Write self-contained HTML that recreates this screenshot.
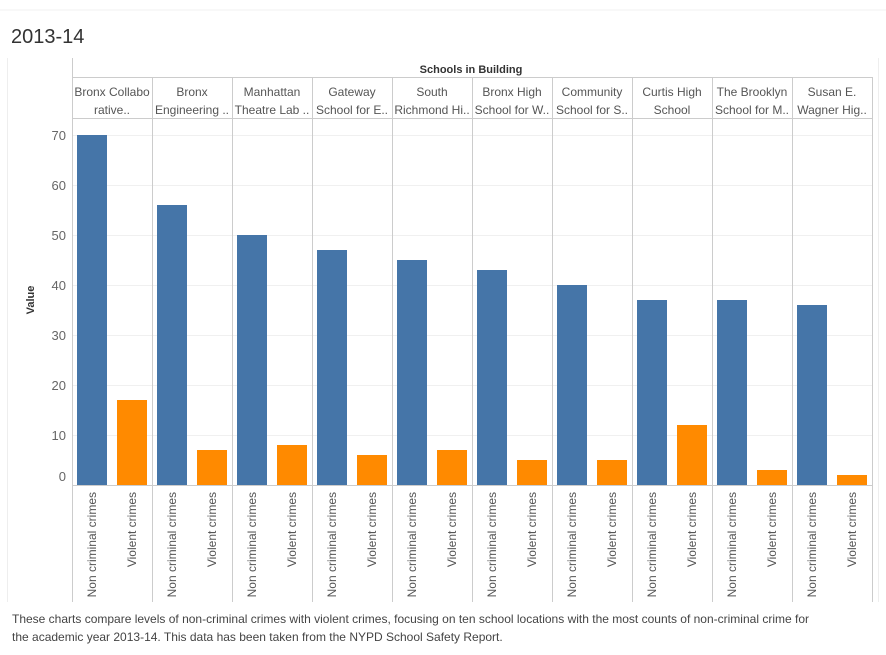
<!DOCTYPE html>
<html><head><meta charset="utf-8"><style>
body{margin:0;background:#fff;width:886px;height:650px;overflow:hidden;font-family:"Liberation Sans",sans-serif}
svg text{font-family:"Liberation Sans",sans-serif}
</style></head><body>
<svg width="886" height="650">
<line x1="0" y1="10" x2="886" y2="10" stroke="#f0f0f0"/>
<text x="11" y="43" font-size="20" fill="#333">2013-14</text>
<line x1="7.5" y1="58" x2="7.5" y2="602" stroke="#eee"/>
<line x1="878.5" y1="58" x2="878.5" y2="602" stroke="#eee"/>
<text x="471" y="73" font-size="11" font-weight="bold" fill="#333" text-anchor="middle">Schools in Building</text>
<text transform="translate(34,300) rotate(-90)" font-size="11" font-weight="bold" fill="#333" text-anchor="middle">Value</text>
<g id="g"></g>
<text x="12" y="623" font-size="12" fill="#444">These charts compare levels of non-criminal crimes with violent crimes, focusing on ten school locations with the most counts of non-criminal crime for</text>
<text x="12" y="641" font-size="12" fill="#444">the academic year 2013-14. This data has been taken from the NYPD School Safety Report.</text>
</svg>
<script>
const schoolsLine1=["Bronx Collabo","Bronx","Manhattan","Gateway","South","Bronx High","Community","Curtis High","The Brooklyn","Susan E."];
const schoolsLine2=["rative..","Engineering ..","Theatre Lab ..","School for E..","Richmond Hi..","School for W..","School for S..","School","School for M..","Wagner Hig.."];
const nonCriminal=[70,56,50,47,45,43,40,37,37,36];
const violent=[17,7,8,6,7,5,5,12,3,2];
const yTicks=[0,10,20,30,40,50,60,70];
const seriesNames=["Non criminal crimes","Violent crimes"];
const colors=["#4575a8","#ff8a00"];
const NS="http://www.w3.org/2000/svg";
const g=document.getElementById('g');
const x0=72,colW=80,y0=485,pxPer=5;
const y=v=>y0-v*pxPer;
function mk(t,a){const e=document.createElementNS(NS,t);for(const k in a)e.setAttribute(k,a[k]);g.appendChild(e);return e;}
yTicks.forEach(t=>{
 const l=mk('line',{x1:x0,x2:872,y1:y(t)+0.5,y2:y(t)+0.5,stroke:t===0?'#ccc':'#f0f0f0'});
 
 
 const tx=mk('text',{x:66,y:(t===0?y(t)-4:y(t)+5),'font-size':13,fill:'#666','text-anchor':'end'});
 tx.textContent=t;
 
 
});
mk('line',{x1:x0,x2:872,y1:118.5,y2:118.5,stroke:'#ccc'});
mk('line',{x1:x0,x2:872,y1:77.5,y2:77.5,stroke:'#ccc'});
for(let i=0;i<=schoolsLine1.length;i++){
 const xx=x0+i*colW+0.5;
 mk('line',{x1:xx,x2:xx,y1:i===0?58:77,y2:602,stroke:'#ccc'});
}
schoolsLine1.forEach((s,i)=>{
 const cx=x0+i*colW+colW/2;
 const t1=mk('text',{x:cx,y:96,'font-size':12,fill:'#555','text-anchor':'middle'});t1.textContent=s;
 
 
 const t2=mk('text',{x:cx,y:114,'font-size':12,fill:'#555','text-anchor':'middle'});t2.textContent=schoolsLine2[i];
 
 
 [nonCriminal[i],violent[i]].forEach((v,j)=>{
  const bx=x0+i*colW+5+j*40;
  const r=mk('rect',{x:bx,y:y(v),width:30,height:v*pxPer,fill:colors[j]});
  
  
  const lt=mk('text',{transform:`translate(${bx+19},492) rotate(-90)`,'font-size':12,fill:'#555','text-anchor':'end'});
  lt.textContent=seriesNames[j];
  
  
 });
});
</script>
</body></html>
